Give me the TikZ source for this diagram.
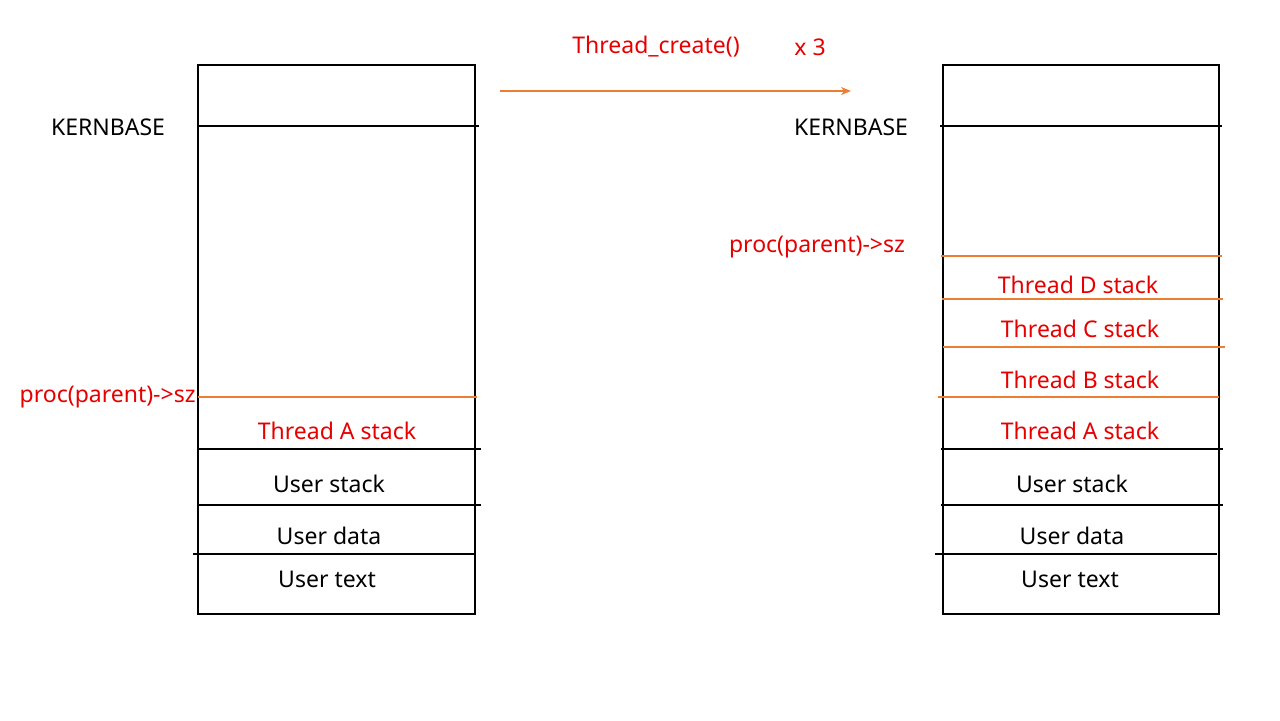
\documentclass[tikz,border=0pt]{standalone}
\usepackage{fontspec}
\setmainfont{Noto Sans}
\usetikzlibrary{arrows.meta}
\definecolor{lineor}{RGB}{237,125,49}
\definecolor{txtred}{RGB}{230,0,0}
\tikzset{
  blk/.style={draw=black, line width=0.6pt},
  orl/.style={draw=lineor, line width=1.1pt},
  lbl/.style={font=\fontsize{11.5}{13}\selectfont, inner sep=0pt, text=black},
  rlbl/.style={lbl, text=txtred},
}
\begin{document}
\begin{tikzpicture}[x=0.5pt,y=-0.5pt]
\useasboundingbox (0,0) rectangle (1280,720);
% left box
\draw[blk] (198,65) rectangle (475,614);
\draw[blk] (198,126) -- (479,126);
\draw[orl] (198,397) -- (477,397);
\draw[blk] (198,449) -- (481,449);
\draw[blk] (198,505) -- (481,505);
\draw[blk] (193,554) -- (475,554);
\node[lbl] (kbL) at (108,127) {KERNBASE};
\node[rlbl, anchor=east] (szL) at (196,397) {proc(parent)->sz};
\node[rlbl] (taL) at (337,431) {Thread A stack};
\node[lbl] (usL) at (329,484) {User stack};
\node[lbl] (udL) at (329,536) {User data};
\node[lbl] (utL) at (327,579) {User text};
% right box
\draw[blk] (943,65) rectangle (1219,614);
\draw[blk] (940,126) -- (1222,126);
\draw[orl] (941,256) -- (1222,256);
\draw[orl] (942,299) -- (1223,299);
\draw[orl] (943,347) -- (1225,347);
\draw[orl] (938,397) -- (1219,397);
\draw[blk] (941,449) -- (1223,449);
\draw[blk] (941,505) -- (1223,505);
\draw[blk] (935,554) -- (1217,554);
\node[lbl] (kbR) at (851,127) {KERNBASE};
\node[rlbl] (szR) at (817,247) {proc(parent)->sz};
\node[rlbl] (tdR) at (1078,285) {Thread D stack};
\node[rlbl] (tcR) at (1080,329) {Thread C stack};
\node[rlbl] (tbR) at (1080,380) {Thread B stack};
\node[rlbl] (taR) at (1080,431) {Thread A stack};
\node[lbl] (usR) at (1072,484) {User stack};
\node[lbl] (udR) at (1072,536) {User data};
\node[lbl] (utR) at (1070,579) {User text};
% arrow
\coordinate (arS) at (500,91);
\coordinate (arE) at (851,91);
\draw[orl, -{Stealth[length=5pt,width=4pt]}] (arS) -- (arE);
\node[rlbl] (tcreate) at (656,47) {Thread\_create()};
\node[rlbl] (x3) at (810,47) {x 3};
\end{tikzpicture}
\end{document}
